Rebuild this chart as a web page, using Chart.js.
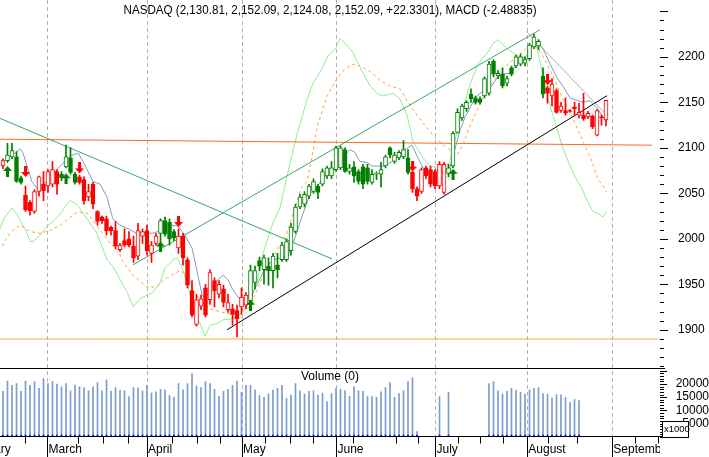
<!DOCTYPE html>
<html>
<head>
<meta charset="utf-8">
<script src="https://cdn.jsdelivr.net/npm/chart.js@4.4.0/dist/chart.umd.min.js"></script>
<style>
  html, body { margin: 0; padding: 0; background: #fff; }
  canvas { display: block; }
</style>
</head>
<body>
<canvas id="chart" width="709" height="457"></canvas>
<script>
// NASDAQ daily candles, Feb - Aug, with MACD overlay and volume

const TITLE = "NASDAQ (2,130.81, 2,152.09, 2,124.08, 2,152.09, +22.3301), MACD (-2.48835)";

const opens = [
  2080, 2086, 2090, 2090, 2067, 2048, 2040, 2030, 2052, 2060,
  2058, 2060, 2074, 2071, 2079, 2089, 2071, 2068, 2065, 2046,
  2060, 2030, 2024, 2022, 2013, 2009, 1988, 1998, 2000, 1992,
  1981, 2003, 2009, 1984, 1995, 2006, 2020, 2018, 2008, 1990,
  2003, 1977, 1943, 1906, 1926, 1946, 1933, 1954, 1939, 1945,
  1922, 1923, 1921, 1925, 1927, 1932, 1952, 1976, 1966, 1970,
  1965, 1971, 1977, 1977, 1987, 2008, 2035, 2038, 2047, 2052,
  2058, 2060, 2069, 2069, 2076, 2078, 2098, 2074, 2079, 2074,
  2079, 2078, 2062, 2071, 2071, 2080, 2100, 2085, 2089, 2090,
  2089, 2073, 2055, 2052, 2078, 2076, 2074, 2058, 2051, 2072,
  2080, 2117, 2133, 2143, 2159, 2155, 2154, 2157, 2160, 2195,
  2179, 2181, 2171, 2188, 2190, 2192, 2193, 2198, 2211, 2212,
  2179, 2166, 2157, 2163, 2141, 2141, 2141, 2145, 2136, 2136,
  2134, 2135, 2114, 2134, 2130.81
];
const highs = [
  2088, 2105, 2105, 2096, 2069, 2058, 2042, 2054, 2069, 2074,
  2076, 2085, 2076, 2074, 2103, 2100, 2073, 2070, 2068, 2060,
  2062, 2031, 2025, 2025, 2014, 2019, 1995, 2011, 2008, 2003,
  2017, 2011, 2015, 1997, 2006, 2022, 2024, 2022, 2010, 2011,
  2006, 1979, 1954, 1939, 1938, 1950, 1966, 1957, 1954, 1949,
  1939, 1928, 1927, 1946, 1941, 1971, 1970, 1980, 1982, 1979,
  1984, 1984, 1996, 2000, 2017, 2038, 2049, 2052, 2060, 2066,
  2060, 2077, 2080, 2085, 2102, 2102, 2100, 2082, 2085, 2076,
  2082, 2082, 2076, 2074, 2084, 2092, 2101, 2095, 2097, 2108,
  2098, 2074, 2057, 2078, 2080, 2080, 2076, 2085, 2084, 2082,
  2118, 2143, 2148, 2152, 2165, 2157, 2156, 2178, 2195, 2197,
  2185, 2188, 2179, 2190, 2202, 2203, 2200, 2215, 2225, 2219,
  2188, 2168, 2176, 2165, 2150, 2155, 2142, 2150, 2149, 2160,
  2140, 2136, 2142, 2136, 2152.09
];
const lows = [
  2077, 2084, 2088, 2062, 2060, 2030, 2026, 2028, 2047, 2042,
  2051, 2057, 2049, 2064, 2078, 2071, 2060, 2060, 2038, 2042,
  2033, 2015, 2017, 2004, 2004, 1989, 1986, 1991, 1991, 1974,
  1977, 1995, 1982, 1974, 1993, 1990, 2003, 1993, 1998, 1984,
  1971, 1946, 1914, 1904, 1922, 1914, 1928, 1925, 1935, 1925,
  1919, 1905, 1892, 1917, 1923, 1928, 1945, 1965, 1950, 1949,
  1946, 1957, 1975, 1975, 1982, 2006, 2033, 2035, 2044, 2050,
  2044, 2058, 2066, 2066, 2074, 2076, 2073, 2071, 2062, 2060,
  2055, 2060, 2060, 2065, 2057, 2078, 2089, 2083, 2087, 2088,
  2071, 2051, 2042, 2050, 2066, 2057, 2055, 2055, 2049, 2068,
  2078, 2116, 2130, 2140, 2150, 2148, 2148, 2155, 2158, 2178,
  2176, 2166, 2168, 2179, 2188, 2190, 2190, 2196, 2209, 2208,
  2155, 2149, 2146, 2138, 2139, 2136, 2139, 2136, 2133, 2130,
  2132, 2121, 2113, 2125, 2124.08
];
const closes = [
  2086, 2092, 2097, 2063, 2062, 2032, 2031, 2052, 2068, 2053,
  2074, 2076, 2060, 2067, 2090, 2073, 2062, 2062, 2042, 2052,
  2038, 2019, 2020, 2009, 2009, 1992, 1993, 1993, 1993, 1979,
  2009, 2008, 1987, 1993, 2003, 2020, 2005, 2000, 2001, 2003,
  1979, 1949, 1916, 1933, 1934, 1916, 1963, 1943, 1950, 1930,
  1930, 1917, 1912, 1936, 1938, 1965, 1965, 1970, 1979, 1965,
  1981, 1966, 1993, 1997, 2013, 2035, 2046, 2049, 2058, 2063,
  2051, 2074, 2078, 2078, 2100, 2100, 2074, 2078, 2069, 2063,
  2060, 2063, 2071, 2072, 2076, 2090, 2092, 2092, 2095, 2098,
  2073, 2055, 2047, 2076, 2069, 2060, 2058, 2082, 2082, 2078,
  2116, 2139, 2146, 2150, 2154, 2150, 2150, 2176, 2192, 2181,
  2182, 2168, 2176, 2181, 2200, 2200, 2197, 2213, 2222, 2217,
  2159, 2160, 2170, 2139, 2146, 2138, 2140, 2143, 2139, 2132,
  2138, 2123, 2141, 2133, 2152.09
];
// G = green candle, R = red candle (hollow when close > open)
const candleColors =
  "RGGGGRRRRRRRRGGGGRRRRRRRRRRRRRRRRRRGGGGRRRRRRRRRRRRRRRR" +
  "GGGGGGGGGGGGGGGGGGGGGGGGGGGGGGGGGGGGRRRRRRRRGGGGGGGGGGGGGGGGGGGGGGRRRRRRRRRRRRRR";

// volume in thousands (null = no bar)
const volumes = [
  17.2, 21.1, 19.5, 20.1, 17.2, 21.1, 19.5, 20.9, 18.3, 22.0,
  20.1, 20.9, 19.9, 18.9, 20.1, 17.4, 19.6, 18.9, 18.6, 17.4,
  18.9, 20.5, 17.4, 21.5, 17.2, 18.6, 17.7, 17.4, 15.2, 18.6,
  18.4, 17.4, 19.5, 16.5, 17.0, 18.0, 17.8, 15.6, 14.9, 20.1,
  17.8, 20.1, 23.8, 19.3, 18.6, 20.9, 20.1, 18.0, 15.3, 17.2,
  18.0, 19.5, 21.1, 16.8, 19.5, 19.5, 17.8, 15.6, 14.9, 16.2,
  17.7, 18.3, 19.5, 14.6, 15.8, 20.1, 17.4, 16.2, 17.2, 17.4,
  15.8, 16.5, 13.3, 16.4, 18.3, 18.0, 17.4, 15.3, 18.9, 17.4,
  17.2, 15.2, 15.2, 14.9, 17.0, 18.6, 20.5, 14.9, 16.4, 17.4,
  20.9, 22.3, 2.0, null, null, null, null, 15.2, null, 16.8,
  null, null, null, null, null, null, null, null, 20.1, 20.9,
  17.4, 16.2, 17.2, 18.3, 17.7, 16.8, 16.2, 17.8, 18.3, 18.6,
  16.4, 16.2, 14.7, 15.9, 15.9, 14.9, 13.1, 14.1, 13.7, null,
  null, null, null, null, null
];

// short moving average (blue): slot / price
const maX = [2.2, 3.8, 4.4, 6.4, 7.8, 8.9, 10.4, 11.6, 13.1, 15.3, 16.7, 17.8, 18.9, 20, 21.6, 23.1, 24.4, 26, 27.8, 29.3,
  31.1, 33.1, 34.4, 35.6, 37.1, 38.9, 40.4, 42, 43.1, 44.2, 44.9, 46.4, 47.8, 48.9, 50, 51.1, 52.2, 53.1, 54.2, 55.3,
  56.4, 57.8, 59.8, 61.6, 63.3, 64.9, 66.4, 68.2, 69.8, 72, 74.4, 76, 77.1, 78.2, 79.3, 80.9, 82, 83.3, 84.9, 86.4,
  87.8, 89.3, 90.9, 92.2, 93.8, 95.3, 96.7, 97.8, 99.3, 100.4, 101.6, 102.7, 103.8, 104.9, 106, 107.1, 108.2, 109.8, 110.9, 112.7,
  114.2, 115.6, 116.7, 117.8, 118.7, 120, 121.6, 123.1, 124.4, 126, 127.6, 128.9, 130.4, 132, 133.8];
const maY = [2092, 2099, 2095, 2063, 2054, 2058, 2069, 2074, 2082, 2092, 2094, 2085, 2074, 2063, 2060, 2046, 2022, 2015, 2011, 2007,
  2007, 2006, 2008, 2014, 2015, 2014, 2004, 1990, 1965, 1939, 1934, 1947, 1955, 1960, 1955, 1944, 1936, 1934, 1936, 1939,
  1949, 1963, 1976, 1979, 1981, 2001, 2024, 2049, 2058, 2071, 2078, 2092, 2098, 2095, 2085, 2084, 2080, 2080, 2080, 2085,
  2090, 2098, 2103, 2089, 2074, 2071, 2076, 2074, 2078, 2098, 2120, 2134, 2144, 2155, 2160, 2163, 2165, 2177, 2181, 2182,
  2192, 2197, 2204, 2214, 2217, 2209, 2192, 2177, 2168, 2155, 2152, 2150, 2152, 2144, 2130];

// MACD (light green) and signal (orange dashed), drawn in price units
const macdX = [-0.7, 0.4, 2, 3.3, 4.9, 6, 6.7, 8.2, 9.8, 11.1, 12.7, 14.2, 14.9, 16.4, 18.7, 20.9, 23.1, 24.4, 27.6, 28.9,
  30.4, 32, 33.3, 34.9, 36, 37.8, 38.7, 40, 41.6, 43.1, 43.8, 44.9, 46, 47.6, 48.9, 51.1, 52.7, 54.9, 56.4, 57.8,
  59.8, 61.6, 63.1, 65.3, 67.6, 68.9, 70.9, 72.2, 73.8, 74.9, 76, 77.6, 79.8, 81.6, 83.1, 84.4, 86.7, 88.2, 89.8, 91.1,
  92, 93.3, 94.9, 96.4, 97.8, 99.3, 100.9, 102.2, 103.8, 105.6, 107.6, 108.9, 110, 112, 114.4, 116.7, 117.8, 118.7, 119.8, 121.1,
  122.7, 124.2, 125.6, 127.1, 128.7, 129.8, 131.1, 132.2, 133.3, 134.2];
const macdY = [2011, 2024, 2034, 2025, 2011, 1997, 1997, 2004, 2014, 2019, 2027, 2038, 2042, 2038, 2022, 2006, 1977, 1970, 1941, 1925,
  1934, 1938, 1941, 1952, 1968, 1977, 1979, 1966, 1938, 1912, 1907, 1893, 1905, 1907, 1911, 1912, 1917, 1930, 1952, 1984,
  2015, 2035, 2069, 2114, 2154, 2171, 2187, 2201, 2208, 2220, 2215, 2206, 2184, 2168, 2160, 2157, 2160, 2154, 2136, 2107,
  2100, 2089, 2080, 2078, 2076, 2085, 2117, 2144, 2170, 2193, 2204, 2215, 2219, 2209, 2201, 2198, 2217, 2209, 2184, 2154,
  2128, 2103, 2085, 2068, 2055, 2042, 2030, 2028, 2024, 2030];
const signalX = [-0.2, 1.6, 3.8, 6, 8.2, 10.4, 12.7, 16.4, 18.9, 20.9, 23.8, 25.6, 26.7, 28.9, 32, 34.2, 35.6, 37.8, 39.3, 40.9,
  42.2, 43.8, 46, 48.2, 50.4, 52, 54.2, 56, 57.8, 60.9, 63.1, 64.9, 66.4, 67.6, 68.7, 69.8, 70.9, 72, 74.2, 76,
  77.8, 79.3, 81.6, 83.8, 86, 88.2, 90, 92, 94.2, 96, 98.7, 100.9, 102.2, 103.8, 107.6, 111.1, 114.4, 116.7, 118.7, 120.4,
  122.2, 124.4, 126.7, 128.9, 130.9, 132, 134.2];
const signalY = [1992, 2007, 2015, 2008, 2006, 2009, 2015, 2029, 2028, 2014, 1995, 1987, 1974, 1960, 1947, 1947, 1954, 1961, 1965, 1960,
  1944, 1933, 1923, 1920, 1917, 1909, 1920, 1938, 1960, 1988, 2006, 2035, 2057, 2063, 2092, 2122, 2140, 2157, 2176, 2187,
  2192, 2190, 2184, 2174, 2168, 2165, 2150, 2136, 2122, 2111, 2100, 2092, 2103, 2125, 2165, 2187, 2201, 2211, 2211, 2197,
  2179, 2154, 2132, 2107, 2085, 2068, 2051];

// trend lines: [x0, y0, x1, y1] in slot / price units
const trendDown = [-0.67, 2132.4, 73.1, 1977.9];
const trendUp = [28.9, 1971.4, 119.3, 2229.7];
const trendBlack = [49.8, 1900, 134.2, 2157.3];
const trendGray = [116.4, 2227.6, 134.2, 2135.7];
const resistance = [-0.67, 2109.5, 144.2, 2102.9];
const support = [-0.67, 1889.83, 145.9, 1889.83];

// signal arrows
const upArrowX = [1, 14, 35, 55, 100];
const upArrowY = [2074, 2066, 1991, 1927, 2071];
const downArrowX = [5, 17, 39, 91, 121];
const downArrowY = [2074, 2078, 2019, 2080, 2175];

// calendar
const monthStarts = [-9.3, 9.8, 31.9, 53.0, 74.0, 96.0, 116.4, 135.3];
const monthNames = ["February", "March", "April", "May", "June", "July", "August", "September"];
const weekTicks = [4.9, 16.7, 22.2, 27.8, 37.6, 43.1, 48.2, 58.2, 63.8, 68.9, 77.8, 87.3, 92.2,
  101.1, 106, 111.1, 121.1, 127.6, 140.4, 145.6];

const GREEN = "#008000";
const RED = "#ff0000";
const FONT = '"Liberation Sans", Arial, sans-serif';

function pts(xs, ys) {
  return xs.map(function(v, i) { return { x: v, y: ys[i] }; });
}
function seg(a) {
  return [{ x: a[0], y: a[1] }, { x: a[2], y: a[3] }];
}

function arrowImage(color, up) {
  const c = document.createElement("canvas");
  c.width = 9;
  c.height = 11;
  const g = c.getContext("2d");
  g.fillStyle = color;
  g.beginPath();
  if (up) {
    g.moveTo(4.5, 0); g.lineTo(9, 5); g.lineTo(6, 5); g.lineTo(6, 11);
    g.lineTo(3, 11); g.lineTo(3, 5); g.lineTo(0, 5);
  } else {
    g.moveTo(4.5, 11); g.lineTo(9, 6); g.lineTo(6, 6); g.lineTo(6, 0);
    g.lineTo(3, 0); g.lineTo(3, 6); g.lineTo(0, 6);
  }
  g.closePath();
  g.fill();
  return c;
}

// candle pieces
const wicks = [], bodies = [], wickColors = [], bodyFill = [], bodyLine = [];
for (let i = 0; i < opens.length; i++) {
  const col = candleColors[i] === "G" ? GREEN : RED;
  wicks.push({ x: i, y: [lows[i], highs[i]] });
  bodies.push({ x: i, y: [Math.min(opens[i], closes[i]), Math.max(opens[i], closes[i])] });
  wickColors.push(col);
  bodyLine.push(col);
  bodyFill.push(closes[i] > opens[i] ? "#ffffff" : col);
}
const volBars = [], volMarks = [];
volumes.forEach(function(v, i) {
  if (v != null) {
    volBars.push({ x: i, y: v });
    volMarks.push({ x: i, y: 0.7 });
  }
});

function lineSet(data, color, extra) {
  return Object.assign({
    type: "line", data: data, borderColor: color, borderWidth: 1,
    pointRadius: 0, tension: 0, fill: false, yAxisID: "y", order: 6,
  }, extra || {});
}

const decor = {
  id: "decor",
  beforeDatasetsDraw(chart) {
    const { ctx, scales: { x, yv } } = chart;
    ctx.save();
    ctx.strokeStyle = "#b4b4b4";
    ctx.lineWidth = 1;
    ctx.setLineDash([4, 3]);
    monthStarts.forEach(function(m) {
      if (m < x.min) return;
      const px = Math.round(x.getPixelForValue(m)) + 0.5;
      ctx.beginPath();
      ctx.moveTo(px, 0);
      ctx.lineTo(px, yv.bottom);
      ctx.stroke();
    });
    ctx.restore();
  },
  afterDraw(chart) {
    const { ctx, scales: { x, y, yv } } = chart;
    const right = x.right;
    ctx.save();
    ctx.strokeStyle = "#000";
    ctx.fillStyle = "#000";
    ctx.lineWidth = 1;

    function line(x0, y0, x1, y1) {
      ctx.beginPath();
      ctx.moveTo(x0, y0);
      ctx.lineTo(x1, y1);
      ctx.stroke();
    }

    // volume panel frame
    const vt = Math.round(yv.top) + 0.5, vb = Math.round(yv.bottom) - 0.5;
    line(0, vt, right + 5, vt);
    line(0, vb, right + 5, vb);

    // price axis ticks
    for (let v = 1860; v <= 2250; v += 10) {
      const py = Math.round(y.getPixelForValue(v)) + 0.5;
      line(right, py, right + (v % 50 === 0 ? 8 : 4), py);
    }
    // volume axis ticks
    for (let v = 0; v <= 25; v++) {
      const py = Math.round(yv.getPixelForValue(v)) + 0.5;
      line(right, py, right + (v % 5 === 0 ? 7 : 4), py);
    }

    // time axis ticks
    monthStarts.forEach(function(m) {
      if (m < x.min) return;
      const px = Math.round(x.getPixelForValue(m)) + 0.5;
      line(px, vb, px, 457);
    });
    weekTicks.forEach(function(w) {
      const px = Math.round(x.getPixelForValue(w)) + 0.5;
      line(px, vb, px, vb + 7);
    });

    // month labels, clipped at the plot's right edge
    ctx.save();
    ctx.beginPath();
    ctx.rect(0, vb + 1, right, 30);
    ctx.clip();
    ctx.font = "12px " + FONT;
    ctx.textBaseline = "middle";
    ctx.textAlign = "left";
    monthStarts.forEach(function(m, i) {
      ctx.fillText(monthNames[i], x.getPixelForValue(m) + 1.5, 450);
    });
    ctx.restore();

    // title, fitted to the width it has in the picture
    ctx.font = "12px " + FONT;
    ctx.textBaseline = "middle";
    ctx.textAlign = "center";
    const w = ctx.measureText(TITLE).width;
    ctx.save();
    ctx.translate(330, 11);
    ctx.scale(413 / w, 1);
    ctx.fillText(TITLE, 0, 0);
    ctx.restore();

    ctx.fillText("Volume (0)", 330, 377);

    // x1000 box
    ctx.fillStyle = "#fff";
    ctx.fillRect(662, 421, 27, 16);
    ctx.strokeRect(662.5, 421.5, 26, 16);
    ctx.fillStyle = "#000";
    ctx.font = "9.5px " + FONT;
    ctx.textAlign = "left";
    ctx.fillText("x1000", 664, 429);
    ctx.restore();
  },
};

Chart.defaults.font.family = FONT;
Chart.defaults.font.size = 12;
Chart.defaults.color = "#000";

new Chart(document.getElementById("chart").getContext("2d"), {
  type: "bar",
  data: {
    datasets: [
      { data: volBars, yAxisID: "yv", backgroundColor: "#7b9bcb", barThickness: 1, grouped: false, order: 12 },
      { data: volMarks, yAxisID: "yv", backgroundColor: "#0000ff", barThickness: 1, grouped: false, order: 11 },
      lineSet(pts(macdX, macdY), "#90ee90", { order: 10 }),
      lineSet(pts(signalX, signalY), "#ffa040", { borderDash: [3, 3], order: 10 }),
      lineSet(seg(resistance), "#ff6a20", { order: 9 }),
      lineSet(seg(support), "#ffaa4a", { order: 9 }),
      lineSet(seg(trendDown), "#36a86a", { order: 8 }),
      lineSet(seg(trendUp), "#36a86a", { order: 8 }),
      lineSet(seg(trendBlack), "#000000", { order: 8 }),
      lineSet(seg(trendGray), "#b0b0b0", { order: 8 }),
      lineSet(pts(maX, maY), "#7f9cc4", { order: 7 }),
      { data: wicks, yAxisID: "y", backgroundColor: wickColors, barThickness: 1, grouped: false, order: 5 },
      { data: bodies, yAxisID: "y", backgroundColor: bodyFill, borderColor: bodyLine, borderWidth: 1,
        borderSkipped: false, barThickness: 4, grouped: false, order: 4 },
      { type: "line", data: pts(upArrowX, upArrowY), yAxisID: "y", showLine: false,
        pointStyle: arrowImage(GREEN, true), pointRadius: 5, order: 2 },
      { type: "line", data: pts(downArrowX, downArrowY), yAxisID: "y", showLine: false,
        pointStyle: arrowImage(RED, false), pointRadius: 5, order: 2 },
    ],
  },
  options: {
    responsive: false,
    animation: false,
    events: [],
    layout: { autoPadding: false, padding: { left: 0, top: 0, right: 0, bottom: 20 } },
    plugins: { legend: { display: false }, tooltip: { enabled: false }, title: { display: false } },
    scales: {
      x: { type: "linear", display: false, offset: false, min: -0.667, max: 146 },
      y: {
        position: "right", stack: "panels", stackWeight: 367, min: 1857.8, max: 2254.6,
        grid: { display: false, drawTicks: true, tickLength: 18 },
        border: { display: false },
        ticks: {
          stepSize: 50, padding: 0, autoSkip: false, font: { size: 12 },
          callback: function(v) { return v >= 1900 && v <= 2200 ? String(v) : null; },
        },
        afterFit: function(s) { s.width = 49; },
      },
      yv: {
        position: "right", stack: "panels", stackWeight: 70, min: 0, max: 25.93,
        grid: { display: false, drawTicks: true, tickLength: 12 },
        border: { display: false },
        ticks: {
          stepSize: 5, padding: 0, autoSkip: false, crossAlign: "far", font: { size: 12 },
          callback: function(v) { return v >= 5 && v <= 20 ? String(v * 1000) : null; },
        },
        afterFit: function(s) { s.width = 49; },
      },
    },
  },
  plugins: [decor],
});
</script>
</body>
</html>
